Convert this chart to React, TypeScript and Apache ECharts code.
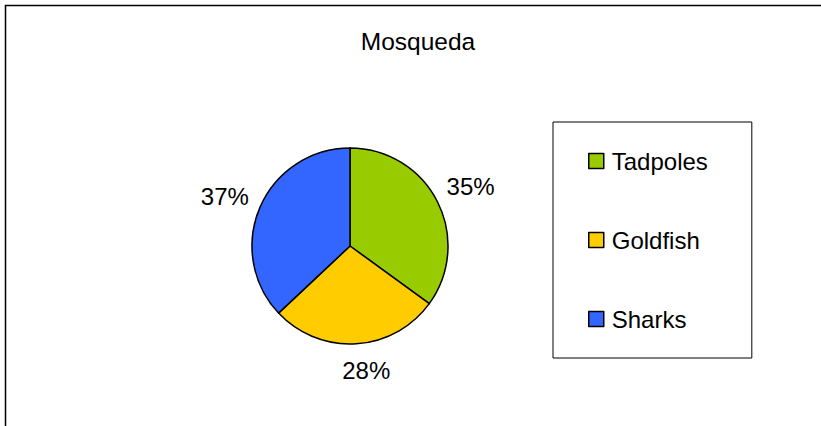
import React, { useEffect, useRef } from "react";
import * as echarts from "echarts";

const titleText = "Mosqueda";
const categories = ["Tadpoles", "Goldfish", "Sharks"];
const values = [35, 28, 37];
const colors = ["#99CC00", "#FFCC00", "#3366FF"];

const FONT = "'Liberation Sans', Arial, Helvetica, sans-serif";
// small nudges so the percentage labels sit where the reference puts them
const labelNudges: [number, number][] = [
  [3, 0],
  [8, -7],
  [-4, 3],
];

export default function App() {
  const ref = useRef<HTMLDivElement>(null);
  useEffect(() => {
    if (!ref.current) return;
    const chart = echarts.init(ref.current, null, { renderer: "svg" });
    const data = categories.map((name, i) => ({
      name,
      value: values[i],
      itemStyle: { color: colors[i] },
    }));
    chart.setOption({
      animation: false,
      backgroundColor: "#fff",
      title: {
        text: titleText,
        left: 418,
        top: 29,
        textAlign: "center",
        padding: 0,
        textStyle: { fontFamily: FONT, fontSize: 24.5, fontWeight: "normal", color: "#000" },
      },
      legend: {
        orient: "vertical",
        left: 553,
        top: 122,
        data: categories,
        padding: [27, 44, 27, 35],
        itemGap: 55,
        itemWidth: 15,
        itemHeight: 15,
        icon: "rect",
        borderColor: "#000",
        borderWidth: 1,
        itemStyle: { borderColor: "#000", borderWidth: 1.5 },
        textStyle: { fontFamily: FONT, fontSize: 24, color: "#000", padding: [0, 0, 0, 3] },
      },
      graphic: [
        {
          type: "rect",
          shape: { x: 5.5, y: 5.5, width: 1000, height: 1000 },
          style: { fill: "none", stroke: "#000", lineWidth: 1.5 },
          silent: true,
        },
      ],
      series: [
        {
          type: "pie",
          center: [350, 246],
          radius: [0, 98],
          startAngle: 90,
          clockwise: true,
          data,
          label: { show: false },
          labelLine: { show: false },
          itemStyle: { borderColor: "#000", borderWidth: 1.5 },
          emphasis: { disabled: true },
        },
        {
          type: "pie",
          center: [350, 246],
          radius: [118, 140],
          startAngle: 90,
          clockwise: true,
          silent: true,
          data: categories.map((name, i) => ({
            name,
            value: values[i],
            label: { offset: labelNudges[i] },
          })),
          itemStyle: { color: "rgba(0,0,0,0)", borderWidth: 0 },
          label: {
            show: true,
            position: "inside",
            formatter: "{d}%",
            fontFamily: FONT,
            fontSize: 24,
            color: "#000",
          },
          labelLine: { show: false },
          emphasis: { disabled: true },
        },
      ],
    });
    return () => chart.dispose();
  }, []);
  return (
    <div
      ref={ref}
      style={{ position: "fixed", left: 0, top: 0, width: 821, height: 426 }}
    />
  );
}
